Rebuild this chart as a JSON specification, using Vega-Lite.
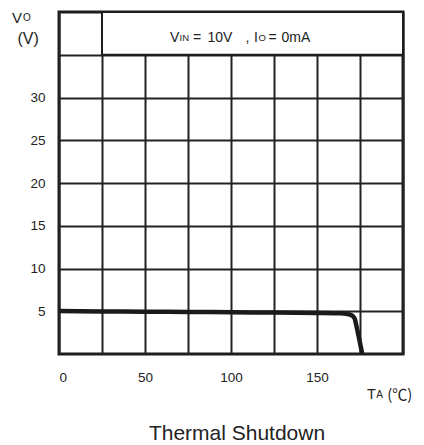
{
  "$schema": "https://vega.github.io/schema/vega-lite/v6.json",
  "width": 344,
  "height": 342,
  "autosize": "none",
  "padding": {"left": 59, "top": 12, "right": 21, "bottom": 91},
  "background": "white",
  "config": {
    "view": {"stroke": "#1e1e1e", "strokeWidth": 3},
    "font": "Liberation Sans",
    "text": {"font": "Liberation Sans", "fontWeight": "normal", "color": "#222"},
    "axis": {
      "domain": false, "ticks": false, "grid": true,
      "gridColor": "#222", "gridWidth": 2, "gridOpacity": 1,
      "labelFont": "Liberation Sans", "labelFontSize": 13.5, "labelColor": "#222", "labelFontWeight": "normal",
      "title": null
    }
  },
  "title": {
    "text": "Thermal Shutdown", "orient": "bottom", "frame": "group", "anchor": "middle",
    "offset": 20, "dx": 6, "fontSize": 21, "fontWeight": "normal", "font": "Liberation Sans", "color": "#222"
  },
  "layer": [
    {
      "data": {"values": [
        {"t": 0, "v": 5.02},
        {"t": 25, "v": 4.98},
        {"t": 50, "v": 4.95},
        {"t": 75, "v": 4.92},
        {"t": 100, "v": 4.88},
        {"t": 125, "v": 4.84},
        {"t": 150, "v": 4.8},
        {"t": 160, "v": 4.78},
        {"t": 164, "v": 4.76},
        {"t": 167, "v": 4.7},
        {"t": 169.5, "v": 4.58},
        {"t": 171, "v": 4.4},
        {"t": 172, "v": 4.1},
        {"t": 173, "v": 3.2},
        {"t": 174.5, "v": 1.8},
        {"t": 176.3, "v": 0}
      ]},
      "mark": {"type": "line", "color": "#1a1a1a", "strokeWidth": 4.5, "strokeJoin": "round", "interpolate": "monotone"},
      "encoding": {
        "x": {"field": "t", "type": "quantitative",
          "scale": {"domain": [0, 200], "nice": false, "zero": false},
          "axis": {"values": [0, 25, 50, 75, 100, 125, 150, 175, 200], "labelPadding": 16,
            "labelExpr": "datum.value % 50 == 0 && datum.value < 200 ? datum.label : ''"}},
        "y": {"field": "v", "type": "quantitative",
          "scale": {"domain": [0, 40], "nice": false, "zero": false},
          "axis": {"values": [5, 10, 15, 20, 25, 30, 35], "labelPadding": 14,
            "labelExpr": "datum.value <= 30 ? datum.label : ''"}}
      }
    },
    {
      "data": {"values": [{}]},
      "mark": {"type": "rect", "fill": "white", "stroke": "#1e1e1e", "strokeWidth": 2},
      "encoding": {"x": {"datum": 25}, "x2": {"datum": 200}, "y": {"datum": 35}, "y2": {"datum": 40}}
    },
    {"data": {"values": [{}]}, "mark": {"type": "text", "text": "V", "align": "left", "fontSize": 14},
     "encoding": {"x": {"datum": 64.53}, "y": {"datum": 36.96}}},
    {"data": {"values": [{}]}, "mark": {"type": "text", "text": "IN", "align": "left", "fontSize": 9.5},
     "encoding": {"x": {"datum": 70.06}, "y": {"datum": 36.96}}},
    {"data": {"values": [{}]}, "mark": {"type": "text", "text": "=", "align": "left", "fontSize": 14},
     "encoding": {"x": {"datum": 77.91}, "y": {"datum": 36.96}}},
    {"data": {"values": [{}]}, "mark": {"type": "text", "text": "10V", "align": "left", "fontSize": 14},
     "encoding": {"x": {"datum": 86.34}, "y": {"datum": 36.96}}},
    {"data": {"values": [{}]}, "mark": {"type": "text", "text": ",", "align": "left", "fontSize": 14},
     "encoding": {"x": {"datum": 108.43}, "y": {"datum": 36.96}}},
    {"data": {"values": [{}]}, "mark": {"type": "text", "text": "I", "align": "left", "fontSize": 14},
     "encoding": {"x": {"datum": 113.37}, "y": {"datum": 36.96}}},
    {"data": {"values": [{}]}, "mark": {"type": "text", "text": "O", "align": "left", "fontSize": 9.5},
     "encoding": {"x": {"datum": 115.99}, "y": {"datum": 36.96}}},
    {"data": {"values": [{}]}, "mark": {"type": "text", "text": "=", "align": "left", "fontSize": 14},
     "encoding": {"x": {"datum": 121.8}, "y": {"datum": 36.96}}},
    {"data": {"values": [{}]}, "mark": {"type": "text", "text": "0mA", "align": "left", "fontSize": 14},
     "encoding": {"x": {"datum": 129.36}, "y": {"datum": 36.96}}},
    {"data": {"values": [{}]}, "mark": {"type": "text", "text": "V", "align": "left", "fontSize": 15},
     "encoding": {"x": {"datum": -27.3}, "y": {"datum": 39.3}}},
    {"data": {"values": [{}]}, "mark": {"type": "text", "text": "O", "align": "left", "fontSize": 10},
     "encoding": {"x": {"datum": -21.0}, "y": {"datum": 39.3}}},
    {"data": {"values": [{}]}, "mark": {"type": "text", "text": "(V)", "align": "center", "fontSize": 16},
     "encoding": {"x": {"datum": -18}, "y": {"datum": 36.8}}},
    {"data": {"values": [{}]}, "mark": {"type": "text", "text": "T", "align": "left", "fontSize": 14.5},
     "encoding": {"x": {"datum": 179.1}, "y": {"datum": -4.8}}},
    {"data": {"values": [{}]}, "mark": {"type": "text", "text": "A", "align": "left", "fontSize": 10},
     "encoding": {"x": {"datum": 184.4}, "y": {"datum": -4.8}}},
    {"data": {"values": [{}]}, "mark": {"type": "text", "text": "(℃)", "align": "left", "fontSize": 15, "font": "Noto Sans CJK SC"},
     "encoding": {"x": {"datum": 190.8}, "y": {"datum": -4.8}}}
  ]
}
